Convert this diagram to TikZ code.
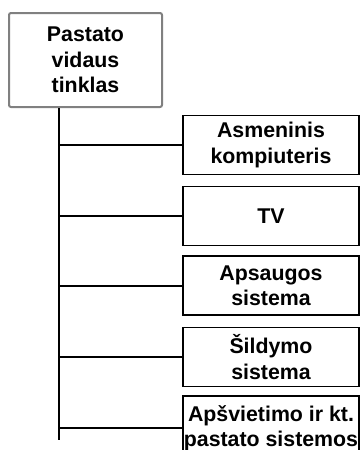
\documentclass[tikz,border=0pt]{standalone}
\usepackage{fontspec}
\setmainfont{Liberation Sans}
\begin{document}
\begin{tikzpicture}[x=0.75pt, y=-0.75pt,
    boxfont/.style={font=\bfseries\fontsize{16}{19}\selectfont},
    rootbox/.style={draw=gray, line width=1.5pt, rounded corners=1.5pt, align=center, boxfont,
        minimum width=114.75pt, minimum height=70.5pt, inner sep=0pt},
    itembox/.style={draw, line width=1.2pt, align=center, boxfont,
        minimum width=132pt, minimum height=44pt, inner sep=0pt},
    branch/.style={line width=1.5pt}]
    \useasboundingbox (0,0) rectangle (361,450);

    \node[rootbox] (tinklas) at (85.5,60) {Pastato\\vidaus\\tinklas};
    \coordinate (trunk) at (59,440);
    \draw[branch] (tinklas.south -| trunk) -- (trunk);

    \node[itembox] (pc) at (271,145) {Asmeninis\\kompiuteris};
    \node[itembox] (tv) at (271,216) {TV};
    \node[itembox] (apsauga) at (271,285.5) {Apsaugos\\sistema};
    \node[itembox] (sildymas) at (271,357) {Šildymo\\sistema};
    \node[itembox, minimum height=48pt] (kitos) at (271,428) {Apšvietimo ir kt.\\pastato sistemos};

    \foreach \n in {pc,tv,apsauga,sildymas,kitos}
        \draw[branch] (\n.west -| trunk) -- (\n.west);
\end{tikzpicture}
\end{document}
